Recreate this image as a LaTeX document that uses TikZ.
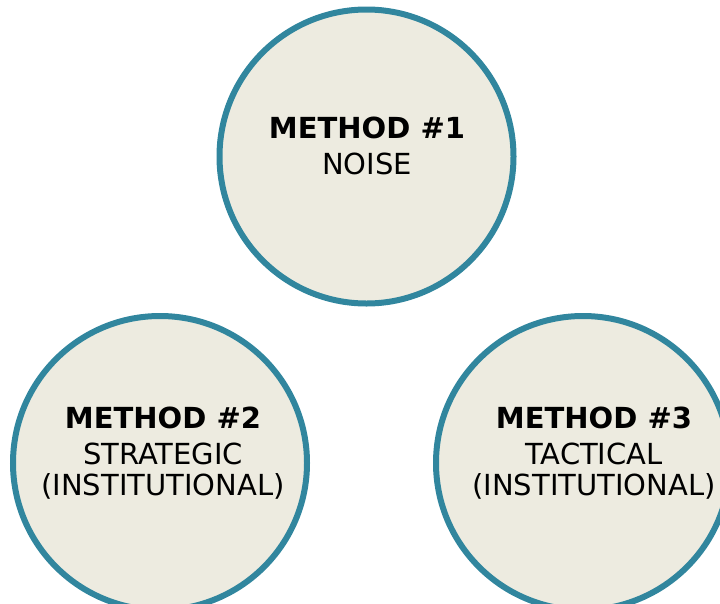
\documentclass[tikz,border=0pt]{standalone}
\usepackage{fontspec}
\setmainfont{DejaVu Sans}
\usepackage{tikz}
\usetikzlibrary{positioning}
\usepackage{xcolor}
\definecolor{ringteal}{RGB}{49,134,158}
\definecolor{paper}{RGB}{237,235,224}

\begin{document}
\begin{tikzpicture}[
  x=1pt, y=-1pt,
  method/.style={circle, draw=ringteal, line width=6pt, fill=paper, minimum size=294pt, inner sep=0pt},
  label/.style={anchor=base, align=center, font=\fontsize{29}{36}\selectfont, inner sep=0pt},
]
  \useasboundingbox (0,0) rectangle (720,603);

  \node[method] (noise) at (366.5,156.5) {};
  \node[method] (strategic) at (160,463) {};
  \node[method] (tactical) at (583,463) {};

  % labels (base = last line)
  \node[label] (noisetext) at (367,174) {\textbf{METHOD \#1}\\NOISE};
  \node[label] (strategictext) at (163,495) {\textbf{METHOD \#2}\\STRATEGIC\\[-5pt](INSTITUTIONAL)};
  \node[label] (tacticaltext) at (594,495) {\textbf{METHOD \#3}\\TACTICAL\\[-5pt](INSTITUTIONAL)};
\end{tikzpicture}
\end{document}
